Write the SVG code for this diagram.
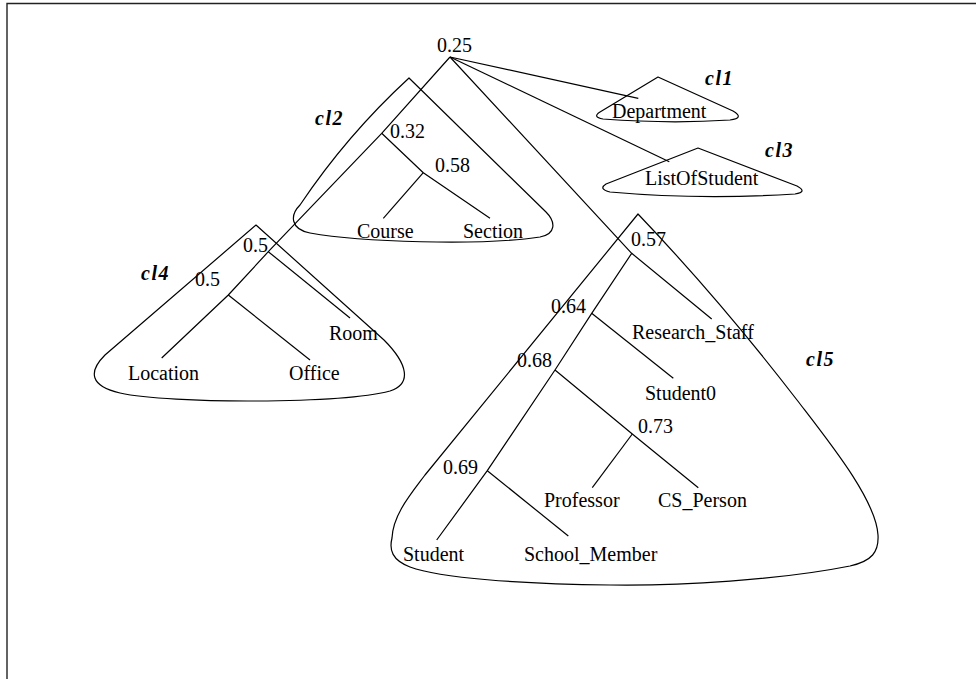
<svg xmlns="http://www.w3.org/2000/svg" width="976" height="679" viewBox="0 0 976 679">
  <style>
    .ln { fill: none; stroke: #000; stroke-width: 1.2; stroke-linejoin: round; }
    .cl { fill: none; stroke: #000; stroke-width: 1.2; stroke-linejoin: round; }
    .t { font-family: "Liberation Serif", "Times New Roman", serif; font-size: 20px; fill: #000; }
    .tag { font-family: "Liberation Serif", "Times New Roman", serif; font-size: 20px; font-weight: bold; font-style: italic; letter-spacing: 1.5px; fill: #000; }
    .frame { fill: none; stroke: #222; stroke-width: 1.4; }
  </style>
  <rect width="976" height="679" fill="#fff"/>
  <!-- page frame (top and left edges only) -->
  <path class="frame" d="M7 679 V3.5 H976"/>

  <!-- cluster outlines -->
  <g id="cl1">
    <path class="cl" d="M658 77 L733 111 Q745 118 730 120 Q670 124 603 119 Q592 117 600 112 Z"/>
    <text class="tag" x="705" y="85">cl1</text>
  </g>
  <g id="cl2">
    <path class="cl" d="M409 78 L546 212 C556 222 556 234 540 237 C480 246 360 242 310 233 C290 229 290 215 300 205 Q347 135 409 78 Z"/>
    <text class="tag" x="315" y="125">cl2</text>
  </g>
  <g id="cl3">
    <path class="cl" d="M698 148 L797 186 Q808 192 795 194 Q700 200 610 192 Q598 189 606 184 Z"/>
    <text class="tag" x="765" y="157">cl3</text>
  </g>
  <g id="cl4">
    <path class="cl" d="M256 225 L384 340 C408 364 412 384 390 391 C340 404 170 404 120 393 C90 386 88 372 105 355 Z"/>
    <text class="tag" x="141" y="280">cl4</text>
  </g>
  <g id="cl5">
    <path class="cl" d="M638 214 Q720 300 797 400 C830 443 876 500 878 535 C879 552 872 561 850 566 C780 580 680 586 610 585 C520 584 440 578 410 567 C392 560 389 550 392 538 C393 515 410 495 425 475 Z"/>
    <text class="tag" x="806" y="366">cl5</text>
  </g>

  <!-- dendrogram branches -->
  <g id="connectors">
    <polyline class="ln" points="450,57 381.7,133.3 268.3,251.7 228.3,295 161.7,358"/>
    <polyline class="ln" points="381.7,133.3 423.3,172.7 490,218.3"/>
    <line class="ln" x1="423.3" y1="172.7" x2="383.3" y2="218.3"/>
    <line class="ln" x1="268.3" y1="251.7" x2="350" y2="318"/>
    <line class="ln" x1="228.3" y1="295" x2="310" y2="360"/>
    <line class="ln" x1="450" y1="57" x2="638.3" y2="98.3"/>
    <line class="ln" x1="450" y1="57" x2="669.3" y2="161.7"/>
    <polyline class="ln" points="450,57 631.7,253.3 711.7,319"/>
    <polyline class="ln" points="631.7,253.3 591.7,313.3 555,370 487.3,470.7 436.7,540"/>
    <line class="ln" x1="591.7" y1="313.3" x2="673.3" y2="378.3"/>
    <polyline class="ln" points="555,370 632.3,434 698.3,487.7"/>
    <line class="ln" x1="632.3" y1="434" x2="592.3" y2="487.7"/>
    <line class="ln" x1="487.3" y1="470.7" x2="568.3" y2="536"/>
  </g>

  <!-- merge similarity values -->
  <g id="values">
    <text class="t" x="437" y="52">0.25</text>
    <text class="t" x="390" y="138">0.32</text>
    <text class="t" x="435" y="172">0.58</text>
    <text class="t" x="243" y="252">0.5</text>
    <text class="t" x="195" y="286">0.5</text>
    <text class="t" x="631" y="246">0.57</text>
    <text class="t" x="551" y="313">0.64</text>
    <text class="t" x="517" y="367">0.68</text>
    <text class="t" x="638" y="433">0.73</text>
    <text class="t" x="443" y="474">0.69</text>
  </g>

  <!-- leaf concepts -->
  <g id="n-department"><text class="t" x="612" y="118">Department</text></g>
  <g id="n-listofstudent"><text class="t" x="645" y="185">ListOfStudent</text></g>
  <g id="n-course"><text class="t" x="357" y="238">Course</text></g>
  <g id="n-section"><text class="t" x="463" y="238">Section</text></g>
  <g id="n-room"><text class="t" x="329" y="340">Room</text></g>
  <g id="n-location"><text class="t" x="128" y="380">Location</text></g>
  <g id="n-office"><text class="t" x="289" y="380">Office</text></g>
  <g id="n-research-staff"><text class="t" x="632" y="339">Research_Staff</text></g>
  <g id="n-student0"><text class="t" x="645" y="400">Student0</text></g>
  <g id="n-professor"><text class="t" x="544" y="507">Professor</text></g>
  <g id="n-cs-person"><text class="t" x="658" y="507">CS_Person</text></g>
  <g id="n-student"><text class="t" x="403" y="561">Student</text></g>
  <g id="n-school-member"><text class="t" x="524" y="561">School_Member</text></g>
</svg>
